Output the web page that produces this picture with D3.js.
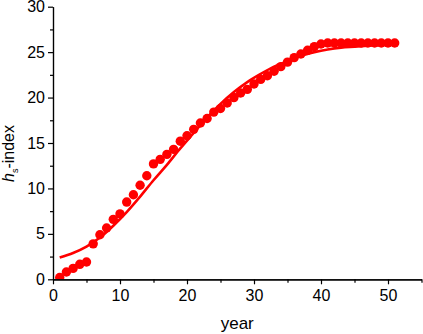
<!DOCTYPE html>
<html>
<head>
<meta charset="utf-8">
<script src="https://cdn.jsdelivr.net/npm/d3@7"></script>
<style>
  body { margin: 0; background: #fff; }
  svg { display: block; font-family: Arial, "Liberation Sans", sans-serif; }
  .axis path, .axis line { stroke: #000; stroke-width: 1.2; }
  .axis text { font-size: 16px; fill: #000; }
</style>
</head>
<body>
<div id="graf"></div>
<script>
// datos
const years = d3.range(1, 52)
const hsValues = [
  0.2, 0.8, 1.2, 1.65, 1.9, 3.9, 4.9, 5.65, 6.6, 7.2,
  8.5, 9.3, 10.35, 11.4, 12.7, 13.2, 13.75, 14.3, 15.2, 15.8,
  16.5, 17.2, 17.7, 18.4, 18.8, 19.4, 20.0, 20.5, 20.9, 21.5,
  22.0, 22.4, 22.9, 23.4, 23.9, 24.4, 24.8, 25.2, 25.6, 25.9,
  26.0, 26.0, 26.0, 26.0, 26.0, 26.0, 26.0, 26.0, 26.0, 26.0, 26.0,
]
// curva de ajuste
const fitYears = [1, 3, 5, 7, 9, 11, 13, 15, 17, 19, 21, 23, 25, 27, 29, 31, 33, 35, 37, 39, 41, 43, 45, 47, 49, 51]
const fitValues = [2.4, 2.9, 3.6, 4.6, 5.9, 7.4, 9.1, 10.9, 12.6, 14.4, 16.1, 17.8, 19.3, 20.6, 21.7, 22.6, 23.4, 24.0, 24.6, 25.0, 25.3, 25.5, 25.6, 25.7, 25.8, 25.85]

const xMajor = [0, 10, 20, 30, 40, 50]
const xMinor = [5, 15, 25, 35, 45, 55]
const yMajor = [0, 5, 10, 15, 20, 25, 30]
const yMinor = [2.5, 7.5, 12.5, 17.5, 22.5, 27.5]

const anchoTotal = 423
const altoTotal = 334
const margins = { top: 6.7, right: 1.5, bottom: 54.7, left: 53 }
const ancho = anchoTotal - margins.left - margins.right
const alto = altoTotal - margins.top - margins.bottom

const svg = d3.select("#graf")
  .append("svg")
  .attr("width", anchoTotal)
  .attr("height", altoTotal)

const g = svg.append("g")
  .attr("transform", `translate(${margins.left}, ${margins.top})`)

const x = d3.scaleLinear().domain([0, 55]).range([0, ancho])
const y = d3.scaleLinear().domain([0, 30]).range([alto, 0])

svg.append("defs").append("clipPath").attr("id", "clip")
  .append("rect").attr("x", 0).attr("y", -10).attr("width", ancho + 2).attr("height", alto + 10)

const plot = g.append("g").attr("clip-path", "url(#clip)")

// puntos
plot.selectAll("circle")
  .data(years)
  .join("circle")
  .attr("cx", (d) => x(d))
  .attr("cy", (d, i) => y(hsValues[i]))
  .attr("r", 4.7)
  .attr("fill", "#ff0000")

// linea de ajuste
const fitData = fitYears.map((d, i) => [d, fitValues[i]])
plot.append("path")
  .datum(fitData)
  .attr("fill", "none")
  .attr("stroke", "#ff0000")
  .attr("stroke-width", 2.6)
  .attr("d", d3.line().x((d) => x(d[0])).y((d) => y(d[1])).curve(d3.curveMonotoneX))

// ejes
g.append("g").classed("axis", true)
  .attr("transform", `translate(0, ${alto})`)
  .call(d3.axisBottom(x).tickValues(xMinor).tickFormat("").tickSize(3.5).tickSizeOuter(0))
g.append("g").classed("axis", true)
  .attr("transform", `translate(0, ${alto})`)
  .call(d3.axisBottom(x).tickValues(xMajor).tickSize(5).tickPadding(5).tickSizeOuter(0))

g.append("g").classed("axis", true)
  .call(d3.axisLeft(y).tickValues(yMinor).tickFormat("").tickSize(3).tickSizeOuter(0))
g.append("g").classed("axis", true)
  .call(d3.axisLeft(y).tickValues(yMajor).tickSize(5).tickPadding(3).tickSizeOuter(0))

// titulos
svg.append("text")
  .attr("x", margins.left + ancho / 2)
  .attr("y", 329)
  .attr("text-anchor", "middle")
  .attr("font-size", 17)
  .text("year")

const yl = svg.append("text")
  .attr("transform", `translate(13.5, 153.5) rotate(-90)`)
  .attr("text-anchor", "middle")
  .attr("font-size", 16)
yl.append("tspan").attr("font-style", "italic").text("h")
yl.append("tspan").attr("font-size", 9).attr("dy", 4).text("s")
yl.append("tspan").attr("dy", -4).text("-index")
</script>
</body>
</html>
